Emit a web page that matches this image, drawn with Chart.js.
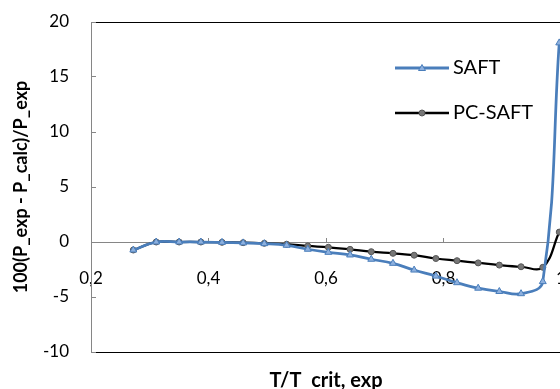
<!DOCTYPE html>
<html><head><meta charset="utf-8">
<script src="https://cdn.jsdelivr.net/npm/chart.js@4"></script>
<style>html,body{margin:0;padding:0;overflow:hidden;background:#fff}#w{position:relative;width:570px;height:389px}</style>
</head><body><div id="w"><canvas id="c"></canvas></div>
<script>
// ---- data ----
const tReduced = [0.272, 0.311, 0.350, 0.387, 0.423, 0.459, 0.495, 0.533, 0.569, 0.604, 0.641, 0.677, 0.714, 0.750, 0.787, 0.823, 0.859, 0.895, 0.932, 0.969, 0.997];
const saftDev = [-0.73, 0, 0, 0, -0.03, -0.08, -0.15, -0.30, -0.66, -0.94, -1.18, -1.57, -1.94, -2.55, -3.1, -3.7, -4.2, -4.5, -4.7, -3.6, 18.1];
const pcSaftDev = [-0.73, 0, 0, 0, -0.03, -0.06, -0.12, -0.20, -0.36, -0.48, -0.67, -0.88, -1.03, -1.20, -1.5, -1.7, -1.9, -2.1, -2.25, -2.3, 0.9];
const seriesNames = ['SAFT', 'PC-SAFT'];
const xTickValues = [0.2, 0.4, 0.6, 0.8, 1];
const xTickLabels = ['0,2', '0,4', '0,6', '0,8', '1'];
const yTickValues = [-10, -5, 0, 5, 10, 15, 20];
const yTickLabels = ['-10', '-5', '0', '5', '10', '15', '20'];
const xTitle = 'T/T  crit, exp';
const yTitle = '100(P_exp - P_calc)/P_exp';

const AXIS = '#868686';
const BLUE = '#4A7EBB';

function legendSample(kind) {
  const c = document.createElement('canvas');
  c.width = 54; c.height = 10;
  const g = c.getContext('2d');
  g.strokeStyle = kind === 'tri' ? BLUE : '#000';
  g.lineWidth = kind === 'tri' ? 3 : 2.5;
  g.beginPath(); g.moveTo(0, 5); g.lineTo(54, 5); g.stroke();
  g.lineWidth = 1;
  if (kind === 'tri') {
    g.fillStyle = '#8DB0DE'; g.strokeStyle = BLUE;
    g.beginPath(); g.moveTo(27, 1.5); g.lineTo(30.5, 7.5); g.lineTo(23.5, 7.5); g.closePath(); g.fill(); g.stroke();
  } else {
    g.fillStyle = '#777'; g.strokeStyle = '#555';
    g.beginPath(); g.arc(27, 5, 3, 0, Math.PI * 2); g.fill(); g.stroke();
  }
  return c;
}
const samples = [legendSample('tri'), legendSample('dot')];

const toPts = ys => tReduced.map((x, i) => ({x, y: ys[i]}));

const plotBorder = {
  id: 'plotBorder',
  beforeDraw(chart) {
    const {ctx, chartArea: a} = chart;
    ctx.save(); ctx.strokeStyle = '#000'; ctx.lineWidth = 1;
    ctx.strokeRect(Math.round(a.left) + 0.5, Math.round(a.top) + 0.5, Math.round(a.right - a.left), Math.round(a.bottom - a.top));
    ctx.restore();
  },
  afterLayout(chart) {
    const lg = chart.legend;
    if (!lg) return;
    const w = lg.width, h = lg.height;
    lg.left = 376; lg.top = 33; lg.right = lg.left + w; lg.bottom = lg.top + h;
  }
};

new Chart(document.getElementById('c'), {
  type: 'line',
  data: {
    datasets: [
      {label: seriesNames[0], data: toPts(saftDev), borderColor: BLUE, borderWidth: 2.75,
       pointStyle: 'triangle', pointRadius: 4, pointBackgroundColor: '#8DB0DE', pointBorderColor: BLUE, pointBorderWidth: 1,
       tension: 0.4, fill: false},
      {label: seriesNames[1], data: toPts(pcSaftDev), borderColor: '#000', borderWidth: 2.25,
       pointStyle: 'circle', pointRadius: 3, pointBackgroundColor: '#777', pointBorderColor: '#555', pointBorderWidth: 1,
       tension: 0.4, fill: false}
    ]
  },
  options: {
    responsive: true, maintainAspectRatio: false, animation: false,
    layout: {padding: {top: 22, right: 9, left: 0, bottom: 0}},
    plugins: {
      tooltip: {enabled: false},
      legend: {
        position: 'chartArea', align: 'start',
        labels: {
          usePointStyle: true, pointStyleWidth: 42, padding: 25, color: '#000',
          font: {family: 'Lato', size: 20},
          generateLabels(chart) {
            const items = Chart.defaults.plugins.legend.labels.generateLabels(chart);
            items.forEach((it, i) => { it.pointStyle = samples[i]; });
            return items;
          }
        }
      }
    },
    scales: {
      x: {
        type: 'linear', position: {y: 0}, min: 0.2, max: 1,
        afterBuildTicks: s => { s.ticks = xTickValues.map(v => ({value: v})); },
        afterFit: s => { s.height = 0; s.paddingLeft = 0; s.paddingRight = 0; },
        ticks: {callback: (v, i) => xTickLabels[i], padding: 31, maxRotation: 0, autoSkip: false,
                color: '#000', font: {family: 'Lato', size: 17}},
        grid: {display: true, drawOnChartArea: false, drawTicks: true, tickLength: -5, color: AXIS},
        border: {display: true, color: AXIS, width: 1}
      },
      x2: {
        type: 'linear', position: 'bottom', min: 0, max: 1,
        afterFit: s => { s.height = 37; s.paddingLeft = 0; s.paddingRight = 0; },
        ticks: {display: false}, grid: {display: false, drawTicks: false}, border: {display: false},
        title: {display: true, text: xTitle, color: '#000', font: {family: 'Lato', size: 20, weight: 'bold'}, padding: {top: 0, bottom: -4}}
      },
      y: {
        type: 'linear', position: 'left', min: -10, max: 20,
        afterBuildTicks: s => { s.ticks = yTickValues.map(v => ({value: v})); },
        afterFit: s => { s.width = 91; s.paddingTop = 0; s.paddingBottom = 0; },
        ticks: {callback: (v, i) => yTickLabels[i], padding: 27, color: '#000', font: {family: 'Lato', size: 17}},
        grid: {display: true, drawOnChartArea: false, drawTicks: true, tickLength: -5, color: AXIS},
        border: {display: true, color: AXIS, width: 1},
        title: {display: true, text: yTitle, color: '#000', font: {family: 'Lato', size: 18, weight: 'bold'}, padding: {top: 10.5, bottom: 0}}
      }
    }
  },
  plugins: [plotBorder]
});
</script>
</body></html>
